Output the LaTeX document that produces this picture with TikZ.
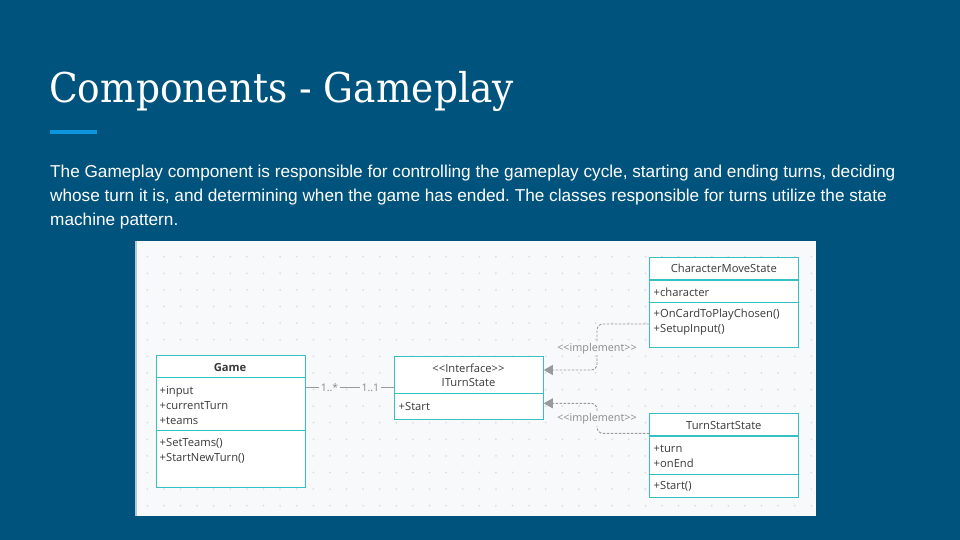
\documentclass[tikz,border=0pt]{standalone}
\usepackage{fontspec}
\setmainfont{Liberation Sans}
\newfontfamily\titlefont[FakeStretch=0.915]{DejaVu Serif}
\newfontfamily\umlfont{Open Sans}
\usetikzlibrary{arrows.meta}
\frenchspacing

\definecolor{slidebg}{HTML}{00537C}
\definecolor{accent}{HTML}{0B96DE}
\definecolor{panel}{HTML}{F8F9FB}
\definecolor{griddot}{HTML}{DADDE2}
\definecolor{umlteal}{HTML}{36C0C1}
\definecolor{umltext}{HTML}{3A3A3A}
\definecolor{linkgray}{HTML}{9A9A9A}
\definecolor{labelgray}{HTML}{8A8A8A}

\tikzset{
  classbox/.style={draw=umlteal, fill=white, line width=1.1pt, anchor=north west, inner sep=0pt},
  divider/.style={draw=umlteal, line width=1.1pt},
  member/.style={font=\umlfont\fontsize{11.2}{13}\selectfont, text=umltext, anchor=west, inner sep=0pt},
  classname/.style={font=\umlfont\fontsize{11.2}{13}\selectfont, text=umltext, inner sep=0pt},
  assoc/.style={draw=linkgray, line width=0.9pt},
  mult/.style={font=\umlfont\fontsize{10.5}{12}\selectfont, text=labelgray, fill=panel, inner sep=1.5pt},
  impl/.style={draw=linkgray, line width=0.9pt, dash pattern=on 2.5pt off 1.5pt, rounded corners=6pt,
    -{Triangle[width=10pt,length=9pt,fill=linkgray]}},
  stereo/.style={font=\umlfont\fontsize{10.8}{12}\selectfont, text=labelgray, fill=panel, inner sep=1.5pt},
  bodytext/.style={font=\fontsize{17.2}{20}\selectfont, text=white, anchor=base west, inner sep=0pt},
}

\begin{document}
\begin{tikzpicture}[x=1pt, y=-1pt]
\useasboundingbox (0,0) rectangle (960,540);
\fill[slidebg] (0,0) rectangle (960,540);

% heading
\node[font=\titlefont\fontsize{41}{48}\selectfont, text=white, anchor=base west, inner sep=0pt] (title) at (49,102.5) {Components - Gameplay};
\fill[accent] (50,130.5) rectangle (97,134.5);

\node[bodytext] (line1) at (50,177.5) {The Gameplay component is responsible for controlling the gameplay cycle, starting and ending turns, deciding};
\node[bodytext] (line2) at (50,201.5) {whose turn it is, and determining when the game has ended. The classes responsible for turns utilize the state};
\node[bodytext] (line3) at (50,225.5) {machine pattern.};

% drawing canvas with dotted grid
\fill[panel] (135,241) rectangle (816,516);
\draw[color=white!70!slidebg, line width=1.5pt] (135.75,241) -- (135.75,516);
\foreach \i in {0,...,40} {
  \foreach \j in {0,...,15} {
    \fill[griddot] ({147.3+16.6*\i},{256.7+16.6*\j}) circle (1pt);
  }
}

% class Game
\node[classbox, minimum width=149pt, minimum height=131.5pt] (game) at (155.5,355.3) {};
\draw[divider] (155.5,377.7) -- (304.5,377.7);
\draw[divider] (155.5,430.7) -- (304.5,430.7);
\node[classname, font=\umlfont\bfseries\fontsize{11.2}{13}\selectfont] (gameN) at (230,367.5) {Game};
\node[member] (gameA1) at (159.5,391.5) {+input};
\node[member] (gameA2) at (159.5,406) {+currentTurn};
\node[member] (gameA3) at (159.5,420.5) {+teams};
\node[member] (gameM1) at (159.5,443.5) {+SetTeams()};
\node[member] (gameM2) at (159.5,458) {+StartNewTurn()};

% interface ITurnState
\node[classbox, minimum width=148.4pt, minimum height=63.3pt] (iturn) at (394.3,355.7) {};
\draw[divider] (394.3,393.3) -- (542.7,393.3);
\node[classname] (iturnS) at (468.5,368) {<<Interface>>};
\node[classname] (iturnN) at (468.5,382) {ITurnState};
\node[member] (iturnA1) at (398.5,406) {+Start};

% class CharacterMoveState
\node[classbox, minimum width=149pt, minimum height=90pt] (cms) at (649.3,256.7) {};
\draw[divider] (649.3,280) -- (798.3,280);
\draw[divider] (649.3,302.3) -- (798.3,302.3);
\node[classname] (cmsN) at (723.8,268.5) {CharacterMoveState};
\node[member] (cmsA1) at (653.5,292) {+character};
\node[member] (cmsM1) at (653.5,314.5) {+OnCardToPlayChosen()};
\node[member] (cmsM2) at (653.5,329.5) {+SetupInput()};

% class TurnStartState
\node[classbox, minimum width=149pt, minimum height=83.4pt] (tss) at (649.3,413.3) {};
\draw[divider] (649.3,436) -- (798.3,436);
\draw[divider] (649.3,474.3) -- (798.3,474.3);
\node[classname] (tssN) at (723.8,425.3) {TurnStartState};
\node[member] (tssA1) at (653.5,448.5) {+turn};
\node[member] (tssA2) at (653.5,463) {+onEnd};
\node[member] (tssM1) at (653.5,486.3) {+Start()};

% association Game -- ITurnState
\draw[assoc] (game.east |- 0,387.7) -- node[mult, pos=0.27] (multA) {1..*} node[mult, pos=0.73] (multB) {1..1} (iturn.west |- 0,387.7);

% realisations
\draw[impl] (cms.west |- 0,324) -- (597,324) -- (597,370) -- (iturn.east |- 0,370);
\node[stereo] (implA) at (597,348.5) {<<implement>>};
\draw[impl] (tss.west |- 0,433.3) -- (597,433.3) -- (597,403.3) -- (iturn.east |- 0,403.3);
\node[stereo] (implB) at (597,419) {<<implement>>};
\end{tikzpicture}
\end{document}
